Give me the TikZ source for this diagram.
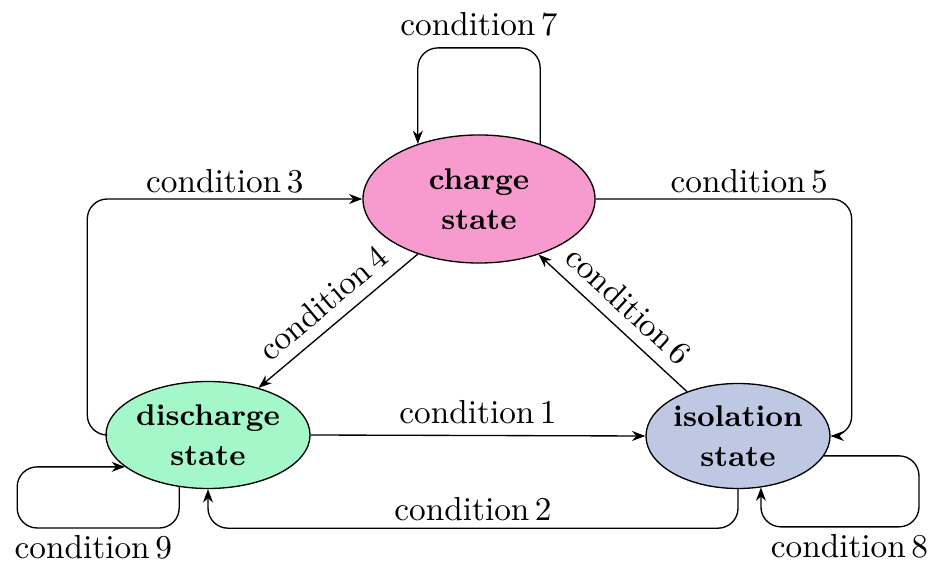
\documentclass[tikz,border=0pt]{standalone}
\usepackage{amsmath,amssymb}
\usepackage{tikz}
\usetikzlibrary{arrows.meta,shapes.geometric}

\definecolor{chargepink}{RGB}{247,155,206}
\definecolor{dischargegreen}{RGB}{163,247,201}
\definecolor{isolationblue}{RGB}{191,200,227}

\begin{document}
\begin{tikzpicture}[
      x=0.010562cm, y=0.010562cm,
      every node/.style={font=\normalsize},
      state/.style={ellipse,draw,inner sep=0pt,align=center,
                    font=\fontsize{9}{12}\selectfont\bfseries},
      trans/.style={->,rounded corners=6pt},
      >={Stealth[length=4pt,width=3pt]}
  ]

  \useasboundingbox (0,0) rectangle (937,563);

  % ===================== States =====================
  \node[state,fill=chargepink,minimum width=2.45cm,minimum height=1.352cm]
      (charge) at (479,364) {charge\\state};
  \node[state,fill=dischargegreen,minimum width=2.155cm,minimum height=1.13cm]
      (discharge) at (208,128) {discharge\\state};
  \node[state,fill=isolationblue,minimum width=1.943cm,minimum height=1.109cm]
      (isolation) at (738,127) {isolation\\state};

  % ===================== Transitions =====================
  % discharge <-> isolation
  \draw[trans] (discharge.east) -- node[above] (c1) {condition\,1} (isolation.west);
  \draw[trans] (isolation.south) -- ++(0,-39)
      -| node[pos=0.25,above,inner sep=2pt] (c2) {condition\,2} (discharge.south);

  % to and from charge
  \draw[trans] (discharge.west) -- ++(-18,0)
      |- node[pos=0.75,above,inner sep=1.5pt] (c3) {condition\,3} (charge.west);
  \draw[trans] (charge.222) -- node[sloped,above] (c4) {condition\,4} (discharge.43);
  \draw[trans] (charge.east) -- node[pos=0.6,above,inner sep=1.5pt] (c5) {condition\,5}
      ++(256,0) |- (isolation.east);
  \draw[trans] (isolation.139) -- node[sloped,above] (c6) {condition\,6} (charge.317);

  % self loops
  \draw[trans] (charge.42) -- ++(0,96)
      -| node[pos=0.25,above] (c7) {condition\,7} (charge.138);
  \draw[trans] (isolation.347) -- ++(95,0) -- ++(0,-71)
      -| node[pos=0.22,below,inner sep=2pt] (c8) {condition\,8} (isolation.294);
  \draw[trans] (discharge.241) -- ++(0,-41)
      -- node[pos=0.53,below,inner sep=2pt] (c9) {condition\,9} ++(-162,0)
      |- (discharge.201);

\end{tikzpicture}
\end{document}
